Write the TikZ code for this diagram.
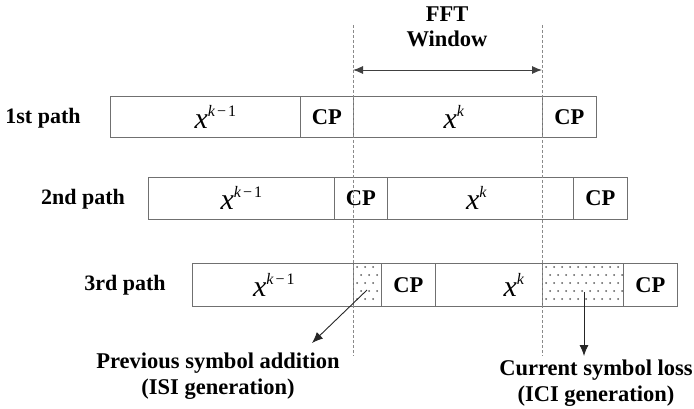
\documentclass[tikz,border=0pt]{standalone}
\usepackage{fontspec}
\setmainfont{Liberation Serif}
\usetikzlibrary{arrows.meta}

\definecolor{boxgray}{HTML}{707070}
\definecolor{dashgray}{HTML}{8A8A8A}
\definecolor{dotgray}{HTML}{5A5A5A}

% x with a superscript, as in the symbol labels
\newcommand{\symx}[1]{{\mdseries\fontsize{30}{30}\selectfont\itshape x}\raisebox{12pt}{\mdseries\fontsize{16}{16}\selectfont #1}}
\newcommand{\kk}{\textit{k}}
\newcommand{\kmo}{\textit{k}\kern2pt\textup{−}\kern2pt1}

\tikzset{
  seg/.style={draw=boxgray, line width=0.8pt, inner sep=0pt, anchor=north west,
              font=\fontsize{22.5}{22.5}\selectfont\bfseries},
  rowlbl/.style={font=\fontsize{22}{22}\selectfont\bfseries, inner sep=0pt},
  note/.style={font=\fontsize{22.5}{26}\selectfont\bfseries, align=center, inner sep=0pt},
  guide/.style={draw=dashgray, line width=0.6pt, dash pattern=on 3pt off 2pt},
  pointer/.style={draw=black!85, line width=0.9pt, -{Latex[length=11pt,width=9pt]}},
  window/.style={draw=black!75, line width=0.9pt, {Latex[length=10pt,width=8pt]}-{Latex[length=10pt,width=8pt]}},
}

\begin{document}
\begin{tikzpicture}[x=1pt, y=-1pt]
\useasboundingbox (0,0) rectangle (694,409);

% ---- 1st path ----
\node[rowlbl] (l1) at (43,118) {1st path};
\node[seg, minimum width=190, minimum height=41] (p1a) at (110,96) {\hspace*{20pt}\symx{\kmo}};
\node[seg, minimum width=53,  minimum height=41] (p1b) at (300,96) {CP};
\node[seg, minimum width=189, minimum height=41] (p1c) at (353,96) {\hspace*{12pt}\symx{\kk}};
\node[seg, minimum width=54,  minimum height=41] (p1d) at (542,96) {CP};

% ---- 2nd path ----
\node[rowlbl] (l2) at (83,199) {2nd path};
\node[seg, minimum width=186, minimum height=42] (p2a) at (148,177) {\hspace*{0pt}\symx{\kmo}};
\node[seg, minimum width=53,  minimum height=42] (p2b) at (334,177) {CP};
\node[seg, minimum width=186, minimum height=42] (p2c) at (387,177) {\hspace*{-8pt}\symx{\kk}};
\node[seg, minimum width=54,  minimum height=42] (p2d) at (573,177) {CP};

% ---- 3rd path ----
\node[rowlbl] (l3) at (125,285) {3rd path};
\node[seg, minimum width=161, minimum height=43] (p3a) at (192,263) {\hspace*{2pt}\symx{\kmo}};
\node[seg, minimum width=28,  minimum height=43] (p3b) at (353,263) {};
\node[seg, minimum width=54,  minimum height=43] (p3c) at (381,263) {CP};
\node[seg, minimum width=107, minimum height=43] (p3d) at (435,263) {\hspace*{50pt}\symx{\kk}};
\node[seg, minimum width=81,  minimum height=43] (p3e) at (542,263) {};
\node[seg, minimum width=54,  minimum height=43] (p3f) at (623,263) {CP};

% dotted fill of the overlapping parts
\foreach \r in {0,...,4}{
  \pgfmathsetmacro{\yy}{267+8*\r}
  \pgfmathsetmacro{\off}{mod(\r,2)*4}
  \foreach \c in {0,...,2}{
    \fill[dotgray] ({357+\off+8*\c},\yy) circle (1pt);
  }
  \foreach \c in {0,...,9}{
    \fill[dotgray] ({546+\off+8*\c},\yy) circle (1pt);
  }
}
\draw[boxgray, line width=0.8pt] (p3b.north west) rectangle (p3b.south east);
\draw[boxgray, line width=0.8pt] (p3e.north west) rectangle (p3e.south east);

% FFT window guides
\coordinate (g1t) at (353,25);
\coordinate (g1b) at (353,356);
\coordinate (g2t) at (542,25);
\coordinate (g2b) at (542,356);
\draw[guide] (g1t) -- (g1b);
\draw[guide] (g2t) -- (g2b);

\coordinate (w1) at (353,70);
\coordinate (w2) at (542,70);
\draw[window] (w1) -- (w2);
\node[note] (fft) at (447,27) {FFT\\[-1pt]Window};

% annotations
\node[note] (isi) at (218,376) {Previous symbol addition\\(ISI generation)};
\node[note] (ici) at (596,383) {Current symbol loss\\(ICI generation)};
\coordinate (isis) at (367,290);
\coordinate (isie) at (312,343);
\draw[pointer] (isis) -- (isie);
\coordinate (icis) at (584,292);
\coordinate (icie) at (584,356);
\draw[pointer] (icis) -- (icie);
\end{tikzpicture}
\end{document}
